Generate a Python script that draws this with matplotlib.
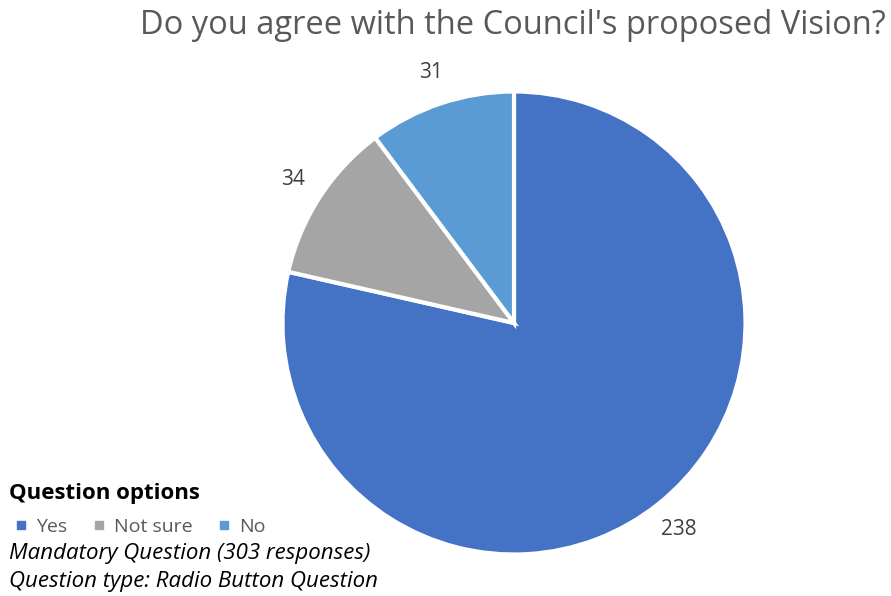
import matplotlib
matplotlib.use("Agg")
import matplotlib.pyplot as plt
from matplotlib.lines import Line2D

plt.rcParams["font.family"] = ["Open Sans", "DejaVu Sans"]

categories = ["Yes", "Not sure", "No"]
responses = [238, 34, 31]
colors = ["#4472C4", "#A5A5A5", "#5B9BD5"]

title = "Do you agree with the Council's proposed Vision?"
legend_title = "Question options"
footnotes = ["Mandatory Question (303 responses)", "Question type: Radio Button Question"]

W, H = 891, 596
fig = plt.figure(figsize=(W / 100, H / 100), dpi=100)

# pie centre / radius in pixels
cx, cy, r = 514, 323, 231.5
ax = fig.add_axes([(cx - r) / W, (H - cy - r) / H, 2 * r / W, 2 * r / H])
wedges, texts = ax.pie(
    responses,
    labels=[str(v) for v in responses],
    colors=colors,
    startangle=90,
    counterclock=False,
    radius=1,
    labeldistance=1.14,
    wedgeprops=dict(edgecolor="white", linewidth=3),
    textprops=dict(fontsize=15, color="#404040"),
)
for t in texts:
    t.set_ha("center")
    t.set_va("center")
ax.set_xlim(-1, 1)
ax.set_ylim(-1, 1)
ax.set_aspect("equal")
ax.axis("off")

fig.text(886 / W, 1 - 25 / H, title, ha="right", va="center",
         fontsize=23.5, color="#595959")

fig.text(9 / W, 1 - 494 / H, legend_title, ha="left", va="center",
         fontsize=16, fontweight="bold", color="black")

handles = [Line2D([], [], marker="s", linestyle="none", markersize=6,
                  color=c) for c in colors]
fig.legend(handles, categories, loc="center left",
           bbox_to_anchor=(-2 / W, 1 - 527 / H), ncol=3, frameon=False,
           handlelength=0.6, handletextpad=0.45, columnspacing=1.35,
           prop=dict(size=14), labelcolor="#595959")

fig.text(9 / W, 1 - 553 / H, footnotes[0], ha="left", va="center",
         fontsize=16, fontstyle="italic", color="black")
fig.text(9 / W, 1 - 582 / H, footnotes[1], ha="left", va="center",
         fontsize=16, fontstyle="italic", color="black")

fig.savefig("out.png", dpi=100)
